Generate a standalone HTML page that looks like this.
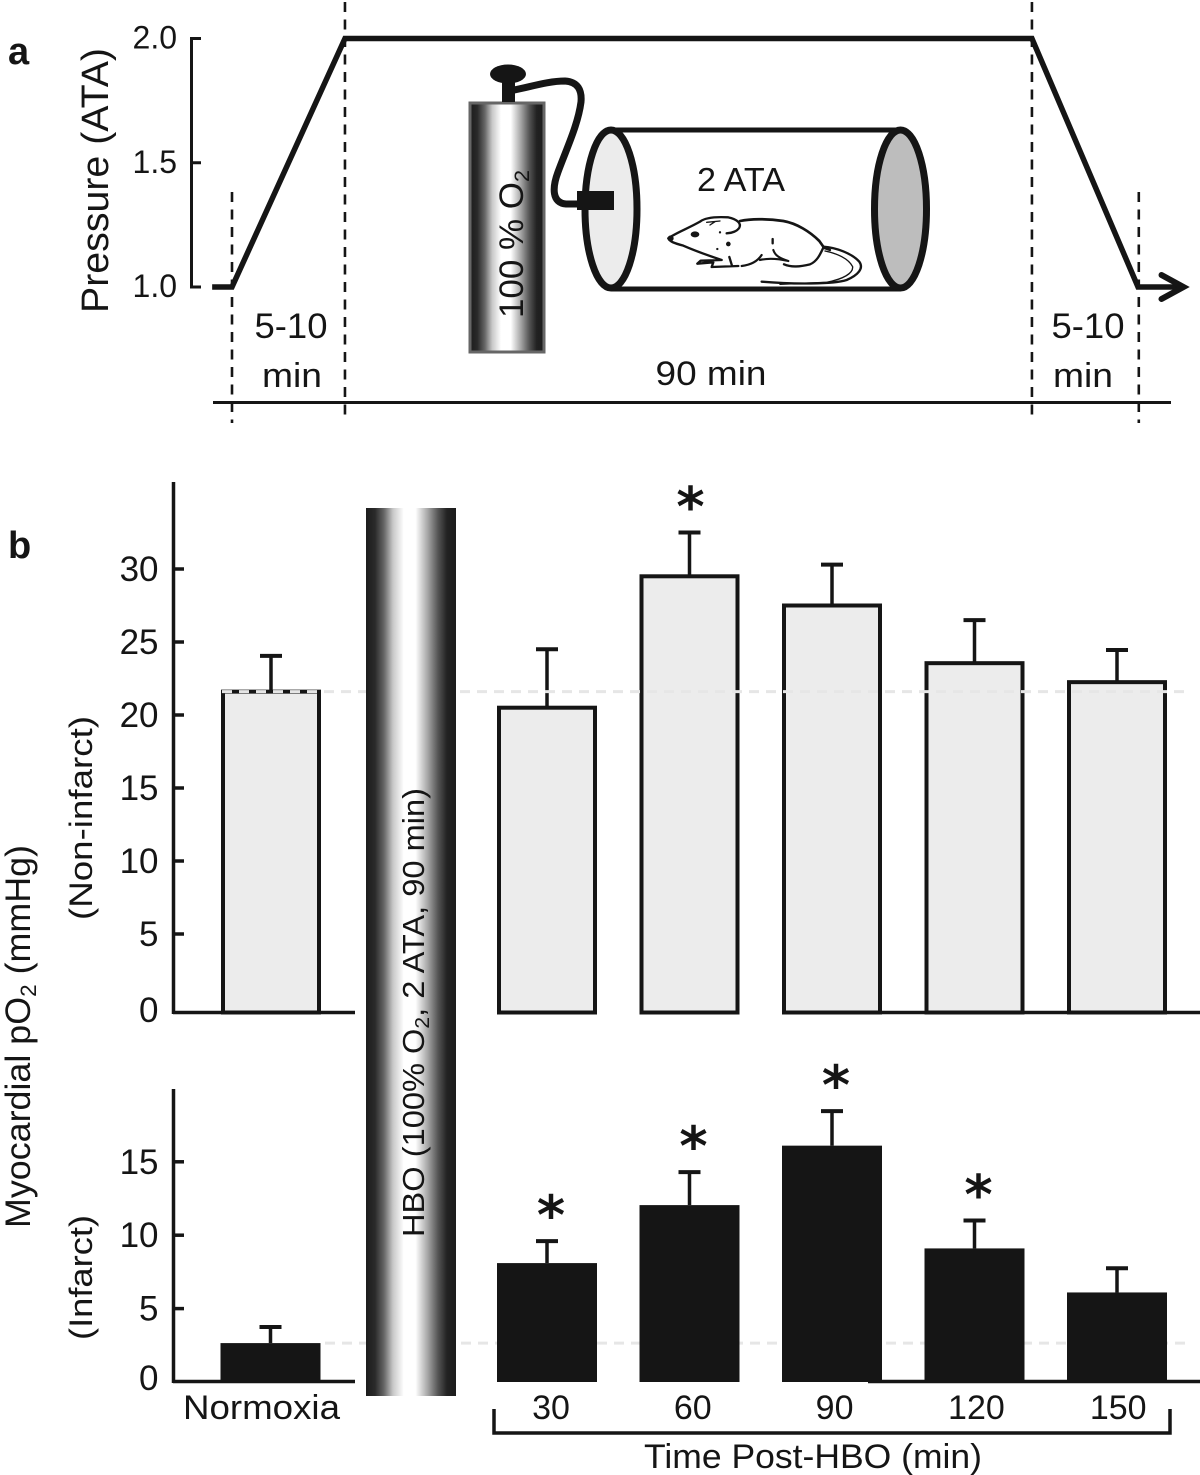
<!DOCTYPE html>
<html lang="en">
<head>
<meta charset="utf-8">
<title>HBO pressure profile and myocardial pO2</title>
<style>
html,body{margin:0;padding:0;background:#fff;width:1200px;height:1475px;overflow:hidden}
svg{display:block}
text{font-family:"Liberation Sans",sans-serif;fill:#151515}
</style>
</head>
<body>
<svg id="fig" xmlns="http://www.w3.org/2000/svg" width="1200" height="1475" viewBox="0 0 1200 1475">
<defs>
<linearGradient id="cylGrad" x1="0" x2="1" y1="0" y2="0">
<stop offset="0" stop-color="#1c1c1c"/><stop offset=".1" stop-color="#2a2a2a"/><stop offset=".2" stop-color="#666"/><stop offset=".3" stop-color="#c8c8c8"/><stop offset=".42" stop-color="#fff"/><stop offset=".55" stop-color="#fff"/><stop offset=".68" stop-color="#aaa"/><stop offset=".8" stop-color="#555"/><stop offset=".9" stop-color="#222"/><stop offset="1" stop-color="#1c1c1c"/>
</linearGradient>
</defs>

<text x="8" y="64" font-size="38" font-weight="bold">a</text>
<text x="8" y="558" font-size="38" font-weight="bold">b</text>

<g id="panelA"></g>

<g>
<rect x="470" y="103" width="74" height="249" fill="url(#cylGrad)" stroke="#666" stroke-width="3"/>
<rect x="502" y="80" width="13" height="22" fill="#151515"/>
<ellipse cx="508" cy="74" rx="18" ry="9.5" fill="#151515"/>
<path d="M514 90 C530 87 548 81 565 81 C578 82 582 90 581 102 C578 125 566 150 558 172 C552 188 552 203 566 204 L590 204" fill="none" stroke="#151515" stroke-width="7"/>
<text transform="translate(523,318) rotate(-90)" font-size="34" textLength="148" lengthAdjust="spacingAndGlyphs">100 % O<tspan font-size="21" dy="6">2</tspan></text>
</g>

<g>
<line x1="611" y1="130" x2="901" y2="130" stroke="#151515" stroke-width="5"/>
<line x1="611" y1="289" x2="901" y2="289" stroke="#151515" stroke-width="5"/>
<ellipse cx="611" cy="209" rx="26" ry="79" fill="#ececec" stroke="#151515" stroke-width="7"/>
<ellipse cx="900.5" cy="209" rx="26" ry="79" fill="#bdbdbd" stroke="#151515" stroke-width="7"/>
<rect x="577" y="191" width="37" height="19" fill="#151515"/>
<text x="697" y="191" font-size="33" textLength="88" lengthAdjust="spacingAndGlyphs">2 ATA</text>
<g transform="translate(660,205) scale(.3333)" fill="none" stroke="#151515" stroke-width="6.5" stroke-linecap="round" stroke-linejoin="round">
<path d="M25 100 C45 85 85 70 120 50 C135 38 170 35 205 37 C230 42 245 55 238 68 C232 78 215 85 200 85" stroke-width="7"/>
<path d="M240 48 C270 42 320 40 370 48 C410 55 450 80 478 108 L492 128" stroke-width="8"/>
<path d="M25 100 C28 110 45 115 70 122 C100 135 140 150 185 165 L122 167 L112 176 L160 172 L155 186 L235 183 M208 156 L216 182" stroke-width="7"/>
<path d="M245 183 C270 180 292 170 305 150 M340 135 C345 152 360 160 385 168 C350 160 320 160 300 165"/>
<path d="M372 178 C395 188 420 185 450 178 C470 170 480 150 490 128 L510 135" stroke-width="7"/>
<path d="M490 125 C530 128 575 145 598 170 C612 190 595 210 560 225 C520 238 400 238 305 230" stroke-width="7"/>
<path d="M495 138 C530 145 565 160 578 185 C580 205 550 222 500 232 L360 238" stroke-width="4"/>
<ellipse cx="105" cy="88" rx="13" ry="9" fill="#151515" stroke="none"/>
<circle cx="205" cy="117" r="7" fill="#151515" stroke="none"/>
<circle cx="172" cy="132" r="3.5" fill="#151515" stroke="none"/>
<circle cx="180" cy="82" r="3.5" fill="#151515" stroke="none"/>
<path d="M338 102 L338 115" stroke-width="7"/>
<path d="M140 52 L180 48 M150 60 L165 50" stroke-width="4"/>
<ellipse cx="32" cy="100" rx="9" ry="9" fill="#151515" stroke="none"/>
</g>
</g>

<line x1="325" y1="1343" x2="1190" y2="1343" stroke="#e6e6e6" stroke-width="3" stroke-dasharray="10 7" id="refBot"/>

<g id="chartTop"></g>
<g id="chartBot"></g>

<line x1="222" y1="692" x2="1190" y2="692" stroke="#e6e6e6" stroke-width="3" stroke-dasharray="10 7" id="refTop"/>

<rect x="366" y="508" width="90" height="888" fill="url(#cylGrad)"/>
<text transform="translate(424,1237) rotate(-90)" font-size="31" textLength="449" lengthAdjust="spacingAndGlyphs">HBO (100% O<tspan font-size="20" dy="5">2</tspan><tspan dy="-5">, 2 ATA, 90 min)</tspan></text>

<text transform="translate(30,1228) rotate(-90)" font-size="35" textLength="383" lengthAdjust="spacingAndGlyphs">Myocardial pO<tspan font-size="22" dy="6">2</tspan><tspan dy="-6"> (mmHg)</tspan></text>
<text transform="translate(92,920) rotate(-90)" font-size="32" textLength="204" lengthAdjust="spacingAndGlyphs">(Non-infarct)</text>
<text transform="translate(92,1340) rotate(-90)" font-size="32" textLength="125" lengthAdjust="spacingAndGlyphs">(Infarct)</text>

<text x="183" y="1419" font-size="34" textLength="157" lengthAdjust="spacingAndGlyphs">Normoxia</text>
<path d="M494 1409 V1433 H1170 V1409" fill="none" stroke="#151515" stroke-width="3.5"/>
<text x="644" y="1468" font-size="34" textLength="338" lengthAdjust="spacingAndGlyphs">Time Post-HBO (min)</text>
</svg>

<script>
// Panel a: schedule (schematic minutes) and chamber pressure (ATA)
const scheduleTimes = [-2.6, 0, 14.8, 104.8, 118.7, 124];
const schedulePressure = [1, 1, 2, 2, 1, 1];
const pressureTicks = [1, 1.5, 2];
const phaseBoundaries = [0, 14.8, 104.8, 118.8];

// Panel b: values (mmHg)
const timeLabels = ['30', '60', '90', '120', '150'];
const nonInfarctNormoxia = 21.6;
const nonInfarctNormoxiaErrorTop = 24.05;
const nonInfarctValues = [20.5, 29.5, 27.5, 23.55, 22.25];
const nonInfarctErrorTops = [24.5, 32.5, 30.3, 26.5, 24.45];
const nonInfarctStars = [false, true, false, false, false];
const nonInfarctTicks = [0, 5, 10, 15, 20, 25, 30];

const infarctNormoxia = 2.65;
const infarctNormoxiaErrorTop = 3.75;
const infarctValues = [8.1, 12.05, 16.1, 9.1, 6.1];
const infarctErrorTops = [9.6, 14.3, 18.45, 11, 7.75];
const infarctStars = [true, true, true, true, false];
const infarctTicks = [0, 5, 10, 15];

const NS = 'http://www.w3.org/2000/svg';
function make(parent, tag, attrs, txt) {
  const el = document.createElementNS(NS, tag);
  for (const k in attrs) el.setAttribute(k, attrs[k]);
  if (txt !== undefined) el.textContent = txt;
  parent.appendChild(el);
  return el;
}
const INK = '#151515';

// ---------- panel a ----------
const tX = t => 232 + 7.633 * t;
const pY = p => 287 - 248.5 * (p - 1);
const pa = document.getElementById('panelA');

phaseBoundaries.forEach((t, i) => {
  const outer = i === 0 || i === 3;
  const d = make(pa, 'line', {x1: tX(t), x2: tX(t), y1: outer ? 192 : 2, y2: outer ? 423 : 415, stroke: INK, 'stroke-width': 2.6, 'stroke-dasharray': '10 7.5'});
  
  
});

const axA = make(pa, 'line', {x1: 191.5, x2: 191.5, y1: pY(2), y2: pY(1), stroke: INK, 'stroke-width': 3});


pressureTicks.forEach(p => {
  const tick = make(pa, 'line', {x1: 190, x2: 201, y1: pY(p), y2: pY(p), stroke: INK, 'stroke-width': 3});
  
  
  const lab = make(pa, 'text', {x: 177, y: pY(p) + 10, 'text-anchor': 'end', 'font-size': 32}, p.toFixed(1));
  
  
});

const pts = scheduleTimes.map((t, i) => tX(t) + ',' + pY(schedulePressure[i])).join(' ');
const prof = make(pa, 'polyline', {points: pts, fill: 'none', stroke: INK, 'stroke-width': 5.5, 'stroke-linejoin': 'miter'});


const lastX = tX(scheduleTimes[scheduleTimes.length - 1]);
const lastY = pY(schedulePressure[schedulePressure.length - 1]);
const arrow = make(pa, 'path', {d: 'M' + (lastX - 17) + ' ' + (lastY - 12) + ' L' + (lastX + 5) + ' ' + lastY + ' L' + (lastX - 17) + ' ' + (lastY + 12), fill: 'none', stroke: INK, 'stroke-width': 6, 'stroke-linecap': 'round'});



const timeLine = make(pa, 'line', {x1: 213, x2: 1171, y1: 402.5, y2: 402.5, stroke: INK, 'stroke-width': 3});



const pTitle = make(pa, 'text', {transform: 'translate(108,313) rotate(-90)', 'font-size': 38, textLength: 265, lengthAdjust: 'spacingAndGlyphs'}, 'Pressure (ATA)');



const dur1 = make(pa, 'text', {x: 291, y: 338, 'text-anchor': 'middle', 'font-size': 35, textLength: 73, lengthAdjust: 'spacingAndGlyphs'}, '5-10');


const dur1b = make(pa, 'text', {x: 292, y: 387, 'text-anchor': 'middle', 'font-size': 34, textLength: 60, lengthAdjust: 'spacingAndGlyphs'}, 'min');


const dur2 = make(pa, 'text', {x: 711, y: 385, 'text-anchor': 'middle', 'font-size': 34, textLength: 111, lengthAdjust: 'spacingAndGlyphs'}, '90 min');


const dur3 = make(pa, 'text', {x: 1088, y: 338, 'text-anchor': 'middle', 'font-size': 35, textLength: 73, lengthAdjust: 'spacingAndGlyphs'}, '5-10');


const dur3b = make(pa, 'text', {x: 1083, y: 387, 'text-anchor': 'middle', 'font-size': 34, textLength: 60, lengthAdjust: 'spacingAndGlyphs'}, 'min');



// ---------- panel b ----------
const postX = i => 547 + 142.5 * i;
const labelX = i => 551 + 141.8 * i;
const normoxiaX = 271;
const yTop = v => 1007 - 14.6 * v;
const yBot = v => 1382 - 14.68 * v;
document.getElementById('refTop').setAttribute('y1', yTop(nonInfarctNormoxia));
document.getElementById('refTop').setAttribute('y2', yTop(nonInfarctNormoxia));
document.getElementById('refBot').setAttribute('y1', yBot(infarctNormoxia));
document.getElementById('refBot').setAttribute('y2', yBot(infarctNormoxia));

function drawAxis(g, y, ticks, axisTop, base, zeroShift, name) {
  const ax = make(g, 'line', {x1: 173.5, x2: 173.5, y1: axisTop, y2: base + 1.5, stroke: INK, 'stroke-width': 3.5});
  
  
  ticks.forEach(v => {
    if (v !== 0) {
      const t = make(g, 'line', {x1: 173, x2: 184, y1: y(v), y2: y(v), stroke: INK, 'stroke-width': 3.5});
      
      
    }
    const lab = make(g, 'text', {x: 158.5, y: y(v) + 12 + (v === 0 ? zeroShift : 0), 'text-anchor': 'end', 'font-size': 35}, String(v));
    
    
  });
  [[173, 355], [868, 1200]].forEach(r => {
    const b = make(g, 'line', {x1: r[0], x2: r[1], y1: base, y2: base, stroke: INK, 'stroke-width': 3.5});
    
    
  });
}

function drawBar(g, cx, v, errTop, y, base, star, filled, name) {
  const eb = make(g, 'line', {x1: cx, x2: cx, y1: y(errTop), y2: y(v), stroke: INK, 'stroke-width': 3.5});
  
  
  const cap = make(g, 'line', {x1: cx - 11, x2: cx + 11, y1: y(errTop), y2: y(errTop), stroke: INK, 'stroke-width': 4});
  
  
  const inset = filled ? 50 : 48;
  const bar = make(g, 'rect', {x: cx - inset, y: y(v), width: inset * 2, height: base - y(v), fill: filled ? INK : '#ececec', stroke: filled ? 'none' : INK, 'stroke-width': 4});
  
  
  if (star) {
    const s = make(g, 'text', {x: cx + (filled ? 4 : 1), y: y(errTop) - 7, 'text-anchor': 'middle', 'font-size': 54, 'font-weight': 'bold'}, '*');
    s.style.fontFamily = '"DejaVu Sans",sans-serif';
    
    
  }
}

const gT = document.getElementById('chartTop');
const gB = document.getElementById('chartBot');
drawAxis(gT, yTop, nonInfarctTicks, 482, 1012.5, 3, 'non-infarct');
drawAxis(gB, yBot, infarctTicks, 1089, 1381.5, -4, 'infarct');

drawBar(gT, normoxiaX, nonInfarctNormoxia, nonInfarctNormoxiaErrorTop, yTop, 1012.5, false, false, 'non-infarct-bar-normoxia');
nonInfarctValues.forEach((v, i) => {
  drawBar(gT, postX(i), v, nonInfarctErrorTops[i], yTop, 1012.5, nonInfarctStars[i], false, 'non-infarct-bar-' + timeLabels[i]);
});
drawBar(gB, normoxiaX - 0.5, infarctNormoxia, infarctNormoxiaErrorTop, yBot, 1382, false, true, 'infarct-bar-normoxia');
infarctValues.forEach((v, i) => {
  drawBar(gB, postX(i), v, infarctErrorTops[i], yBot, 1382, infarctStars[i], true, 'infarct-bar-' + timeLabels[i]);
});
timeLabels.forEach((t, i) => {
  const lab = make(gB, 'text', {x: labelX(i), y: 1419, 'text-anchor': 'middle', 'font-size': 34}, t);
  
  
});
</script>
</body>
</html>
